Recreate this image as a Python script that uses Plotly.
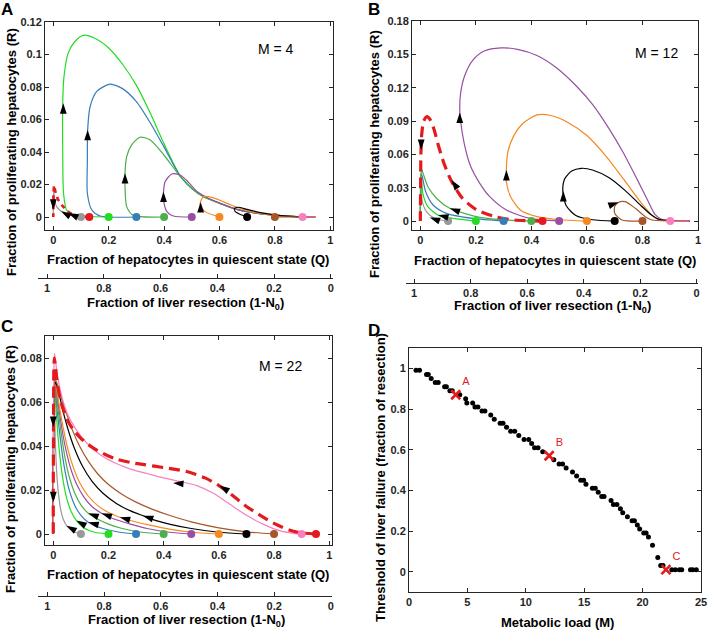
import plotly.graph_objects as go

W, H = 709, 632
FONT = "Liberation Sans"
AX = "#262626"

# ---------------- colours ----------------
C_GRAY = "#999999"
C_LIME = "#22DD22"
C_BLUE = "#377EB8"
C_GREEN = "#4DAF4A"
C_PURPLE = "#984EA3"
C_ORANGE = "#F5891F"
C_BLACK = "#000000"
C_BROWN = "#A65628"
C_PINK = "#F781BF"
C_RED = "#E41A1C"

# ---------------- Panel A (M = 4) ----------------
A_gray_Q = [0.1, 0.075, 0.05, 0.036, 0.022, 0.012, 0.006, 0.0025, 0.001, 0.0, 0.0]
A_gray_R = [0.0, 0.0005, 0.0015, 0.0027, 0.0045, 0.0064, 0.0095, 0.0136, 0.016, 0.01, 0.0]
A_red_Q = [0.13, 0.09, 0.06, 0.035, 0.018, 0.007, 0.003, 0.001, 0.0, 0.0]
A_red_R = [0.0, 0.0005, 0.0025, 0.0065, 0.0105, 0.016, 0.0195, 0.015, 0.005, 0.0]
A_lime_Q = [0.2, 0.12, 0.072, 0.048, 0.037, 0.034, 0.034, 0.0386, 0.054, 0.078, 0.108, 0.15, 0.2, 0.25, 0.3, 0.35, 0.4, 0.458, 0.506, 0.542, 0.602, 0.663, 0.735, 0.819, 0.9, 0.946]
A_lime_R = [0.0, 0.0003, 0.0008, 0.0043, 0.0146, 0.041, 0.07, 0.0865, 0.101, 0.108, 0.1118, 0.110, 0.104, 0.094, 0.081, 0.064, 0.045, 0.0255, 0.017, 0.0126, 0.0084, 0.0047, 0.0023, 0.0008, 0.0001, 0.0]
A_blue_Q = [0.3, 0.169, 0.139, 0.123, 0.123, 0.124, 0.133, 0.157, 0.205, 0.25, 0.3, 0.35, 0.4, 0.458, 0.506, 0.542, 0.602, 0.663, 0.735, 0.819, 0.9, 0.946]
A_blue_R = [0.0, 0.0006, 0.0043, 0.0146, 0.035, 0.0536, 0.068, 0.0773, 0.0818, 0.079, 0.071, 0.058, 0.043, 0.0252, 0.0167, 0.0126, 0.0084, 0.0047, 0.0023, 0.0008, 0.0001, 0.0]
A_green_Q = [0.4, 0.289, 0.265, 0.259, 0.259, 0.265, 0.283, 0.313, 0.349, 0.4, 0.458, 0.506, 0.542, 0.602, 0.663, 0.735, 0.819, 0.9, 0.946]
A_green_R = [0.0, 0.001, 0.0064, 0.0187, 0.027, 0.0372, 0.0444, 0.0491, 0.0475, 0.038, 0.025, 0.0166, 0.0125, 0.0084, 0.0047, 0.0023, 0.0008, 0.0001, 0.0]
A_purple_Q = [0.5, 0.434, 0.41, 0.398, 0.398, 0.404, 0.428, 0.458, 0.49, 0.52, 0.56, 0.602, 0.663, 0.735, 0.819, 0.9, 0.946]
A_purple_R = [0.0, 0.0006, 0.0033, 0.0105, 0.0156, 0.0218, 0.0265, 0.0258, 0.021, 0.0155, 0.0115, 0.0084, 0.0047, 0.0023, 0.0008, 0.0001, 0.0]
A_orange_Q = [0.6, 0.548, 0.53, 0.532, 0.542, 0.578, 0.639, 0.699, 0.783, 0.87, 0.946]
A_orange_R = [0.0, 0.0033, 0.0074, 0.0094, 0.0125, 0.0118, 0.0076, 0.0040, 0.0012, 0.0002, 0.0]
A_black_Q = [0.7, 0.681, 0.657, 0.654, 0.668, 0.699, 0.748, 0.807, 0.88, 0.946]
A_black_R = [0.0, 0.0012, 0.0033, 0.0053, 0.006, 0.0047, 0.0027, 0.0012, 0.0002, 0.0]
A_brown_Q = [0.8, 0.87, 0.946]
A_brown_R = [0.0, 0.0001, 0.0]
A_pink_Q = [0.9, 0.946]
A_pink_R = [0.0, 0.0]
A_arrow_Q = [0.036, 0.124, 0.259, 0.398, 0.532, 0.054, 0.028, 0.0]
A_arrow_R = [0.070, 0.0536, 0.027, 0.0156, 0.0092, 0.0025, 0.0036, 0.0045]
A_arrow_ang = [0, 0, 0, 0, 0, 295, 300, 180]

# ---------------- Panel B (M = 12) ----------------
B_gray_Q = [0.1, 0.052, 0.022, 0.007, 0.002, 0.001, 0.0, 0.0]
B_gray_R = [0.0, 0.0024, 0.0085, 0.0175, 0.028, 0.02, 0.006, 0.0]
B_lime_Q = [0.2, 0.118, 0.064, 0.027, 0.009, 0.004, 0.002, 0.0, 0.0]
B_lime_R = [0.0, 0.0024, 0.0054, 0.013, 0.025, 0.037, 0.025, 0.008, 0.0]
B_blue_Q = [0.3, 0.19, 0.094, 0.046, 0.019, 0.007, 0.003, 0.001, 0.0, 0.0]
B_blue_R = [0.0, 0.0024, 0.007, 0.0145, 0.0266, 0.0402, 0.043, 0.03, 0.008, 0.0]
B_green_Q = [0.4, 0.3, 0.214, 0.106, 0.058, 0.027, 0.0095, 0.004, 0.001, 0.0, 0.0]
B_green_R = [0.0, 0.0012, 0.0034, 0.0115, 0.0206, 0.0311, 0.0433, 0.047, 0.035, 0.01, 0.0]
B_purple_Q = [0.5, 0.395, 0.31, 0.25, 0.214, 0.18, 0.158, 0.145, 0.142, 0.145, 0.16, 0.19, 0.23, 0.29, 0.35, 0.42, 0.49, 0.56, 0.62, 0.68, 0.73, 0.78, 0.82, 0.845, 0.87, 0.92, 0.97]
B_purple_R = [0.0, 0.0024, 0.01, 0.022, 0.034, 0.05, 0.07, 0.09, 0.1, 0.115, 0.131, 0.145, 0.153, 0.1558, 0.1545, 0.149, 0.138, 0.122, 0.105, 0.083, 0.062, 0.038, 0.018, 0.006, 0.0015, 0.0002, 0.0]
B_orange_Q = [0.6, 0.5, 0.42, 0.36, 0.325, 0.31, 0.31, 0.315, 0.335, 0.37, 0.42, 0.47, 0.53, 0.6, 0.67, 0.74, 0.8, 0.84, 0.87, 0.92, 0.97]
B_orange_R = [0.0, 0.0012, 0.004, 0.01, 0.022, 0.035, 0.048, 0.062, 0.076, 0.088, 0.0955, 0.095, 0.089, 0.077, 0.058, 0.035, 0.015, 0.004, 0.001, 0.0002, 0.0]
B_black_Q = [0.7, 0.62, 0.56, 0.525, 0.513, 0.52, 0.545, 0.58, 0.62, 0.68, 0.74, 0.79, 0.83, 0.86, 0.92, 0.97]
B_black_R = [0.0, 0.0012, 0.005, 0.014, 0.027, 0.038, 0.045, 0.0475, 0.046, 0.039, 0.027, 0.015, 0.006, 0.0015, 0.0002, 0.0]
B_brown_Q = [0.8, 0.726, 0.70, 0.70, 0.714, 0.738, 0.774, 0.81, 0.834, 0.9, 0.97]
B_brown_R = [0.0, 0.001, 0.007, 0.013, 0.017, 0.0175, 0.0115, 0.004, 0.001, 0.0001, 0.0]
B_pink_Q = [0.9, 0.967]
B_pink_R = [0.0, 0.0]
B_red_Q = [0.44, 0.34, 0.27, 0.2, 0.15, 0.112, 0.085, 0.065, 0.05, 0.036, 0.024, 0.012, 0.005, 0.002, 0.001, 0.0]
B_red_R = [0.0, 0.001, 0.0039, 0.0105, 0.021, 0.036, 0.052, 0.068, 0.082, 0.091, 0.094, 0.09, 0.078, 0.06, 0.03, 0.0]
B_arrow_Q = [0.142, 0.31, 0.515, 0.714, 0.112, 0.003, 0.034, 0.064, 0.106]
B_arrow_R = [0.0977, 0.046, 0.027, 0.017, 0.037, 0.064, 0.0033, 0.0056, 0.0115]
B_arrow_ang = [0, 0, 0, 70, 325, 180, 290, 285, 290]

# ---------------- Panel C (M = 22) ----------------
C_gray_Q = [0.1, 0.08, 0.062, 0.048, 0.036, 0.027, 0.02, 0.014, 0.01, 0.007, 0.005, 0.0035, 0.002, 0.001, 0.0, 0.0]
C_gray_R = [0.0, 0.0008, 0.0022, 0.0038, 0.0068, 0.011, 0.017, 0.025, 0.034, 0.044, 0.053, 0.06, 0.062, 0.045, 0.015, 0.0]
C_lime_Q = [0.2, 0.15, 0.11, 0.084, 0.064, 0.048, 0.036, 0.026, 0.018, 0.012, 0.008, 0.005, 0.002, 0.001, 0.0, 0.0]
C_lime_R = [0.0, 0.0008, 0.0028, 0.0061, 0.0105, 0.0165, 0.024, 0.033, 0.043, 0.053, 0.061, 0.065, 0.062, 0.045, 0.015, 0.0]
C_blue_Q = [0.3, 0.24, 0.18, 0.15, 0.127, 0.1, 0.078, 0.06, 0.045, 0.033, 0.023, 0.015, 0.01, 0.006, 0.003, 0.001, 0.0, 0.0]
C_blue_R = [0.0, 0.0008, 0.0025, 0.0038, 0.0053, 0.0085, 0.013, 0.019, 0.027, 0.036, 0.046, 0.055, 0.062, 0.066, 0.064, 0.045, 0.015, 0.0]
C_green_Q = [0.4, 0.32, 0.25, 0.2, 0.16, 0.127, 0.1, 0.078, 0.06, 0.045, 0.033, 0.023, 0.015, 0.01, 0.006, 0.003, 0.001, 0.0, 0.0]
C_green_R = [0.0, 0.0008, 0.0025, 0.0045, 0.0068, 0.0094, 0.0132, 0.0185, 0.025, 0.033, 0.042, 0.051, 0.059, 0.064, 0.067, 0.064, 0.045, 0.015, 0.0]
C_purple_Q = [0.5, 0.42, 0.34, 0.28, 0.22, 0.175, 0.14, 0.11, 0.085, 0.065, 0.048, 0.035, 0.025, 0.017, 0.011, 0.006, 0.003, 0.001, 0.0, 0.0]
C_purple_R = [0.0, 0.0008, 0.0025, 0.0045, 0.0068, 0.0094, 0.0125, 0.017, 0.0225, 0.029, 0.037, 0.045, 0.053, 0.06, 0.065, 0.068, 0.065, 0.045, 0.015, 0.0]
C_orange_Q = [0.6, 0.5, 0.42, 0.35, 0.29, 0.241, 0.2, 0.16, 0.125, 0.095, 0.072, 0.053, 0.038, 0.026, 0.017, 0.01, 0.006, 0.003, 0.001, 0.0, 0.0]
C_orange_R = [0.0, 0.0008, 0.0022, 0.004, 0.0058, 0.0076, 0.0098, 0.013, 0.0175, 0.0235, 0.0305, 0.0385, 0.047, 0.055, 0.062, 0.067, 0.069, 0.066, 0.045, 0.015, 0.0]
C_black_Q = [0.7, 0.6, 0.5, 0.42, 0.37, 0.325, 0.28, 0.23, 0.18, 0.14, 0.105, 0.078, 0.056, 0.039, 0.026, 0.016, 0.009, 0.004, 0.001, 0.0, 0.0]
C_black_R = [0.0, 0.0008, 0.0025, 0.0045, 0.0062, 0.0083, 0.0105, 0.0138, 0.0185, 0.024, 0.031, 0.0385, 0.0465, 0.054, 0.061, 0.066, 0.069, 0.067, 0.045, 0.015, 0.0]
C_brown_Q = [0.8, 0.7, 0.6, 0.5, 0.42, 0.36, 0.3, 0.25, 0.2, 0.16, 0.125, 0.095, 0.07, 0.05, 0.034, 0.021, 0.012, 0.006, 0.003, 0.001, 0.0, 0.0]
C_brown_R = [0.0, 0.001, 0.0028, 0.0055, 0.0085, 0.0112, 0.0145, 0.018, 0.0225, 0.0275, 0.0335, 0.04, 0.047, 0.054, 0.06, 0.065, 0.069, 0.07, 0.066, 0.045, 0.015, 0.0]
C_pink_Q = [0.9, 0.87, 0.82, 0.76, 0.7, 0.64, 0.58, 0.52, 0.46, 0.4, 0.34, 0.28, 0.22, 0.17, 0.12, 0.08, 0.05, 0.03, 0.015, 0.007, 0.004, 0.002, 0.001, 0.0]
C_pink_R = [0.0, 0.0003, 0.0015, 0.0045, 0.0085, 0.0135, 0.0185, 0.022, 0.0238, 0.0255, 0.0275, 0.0295, 0.0325, 0.036, 0.0415, 0.048, 0.055, 0.063, 0.072, 0.08, 0.082, 0.07, 0.04, 0.0]
C_red_Q = [0.952, 0.9, 0.855, 0.8, 0.75, 0.7, 0.65, 0.6, 0.55, 0.48, 0.4, 0.33, 0.28, 0.23, 0.19, 0.14, 0.1, 0.075, 0.05, 0.03, 0.015, 0.008, 0.004, 0.002, 0.001, 0.0, 0.0]
C_red_R = [0.0, 0.0005, 0.0018, 0.0048, 0.0085, 0.0125, 0.0175, 0.022, 0.0255, 0.0285, 0.0302, 0.0315, 0.0325, 0.034, 0.036, 0.0395, 0.0435, 0.047, 0.052, 0.059, 0.068, 0.076, 0.08, 0.075, 0.05, 0.02, 0.0]
C_arrow_Q = [0.048, 0.084, 0.127, 0.127, 0.175, 0.241, 0.325, 0.434, 0.602, 0.0, 0.0]
C_arrow_R = [0.0038, 0.0061, 0.0053, 0.0094, 0.0094, 0.0076, 0.0083, 0.0232, 0.022, 0.0486, 0.0144]
C_arrow_ang = [300, 300, 285, 290, 290, 285, 288, 275, 302, 180, 180]

# ---------------- Panel D ----------------
D_M = [0.6, 0.9, 1.5, 1.65, 1.9, 2.25, 2.5, 3.05, 3.2, 3.5, 3.7, 4.35, 4.85, 4.95, 5.45, 5.65, 5.9,
       6.25, 6.5, 7.0, 7.3, 7.8, 8.05, 8.35, 8.7, 9.05, 9.4, 9.85, 10.25, 10.5, 10.75, 11.05, 11.45,
       12.4, 12.85, 13.15, 13.45, 14.0, 14.35, 14.7, 14.95, 15.15, 15.7, 15.95, 16.2, 16.5, 16.7,
       17.3, 17.5, 17.8, 18.1, 18.3, 18.7, 19.1, 19.3, 19.55, 19.75, 20.1, 20.3, 20.5, 20.85, 21.3,
       21.55, 21.75, 22.5, 22.8, 23.15, 23.35, 24.1, 24.3, 24.6]
D_thr = [0.99, 0.99, 0.97, 0.97, 0.95, 0.93, 0.93, 0.91, 0.91, 0.89, 0.89, 0.87, 0.85, 0.83, 0.83, 0.81, 0.81,
         0.79, 0.79, 0.77, 0.75, 0.73, 0.73, 0.71, 0.69, 0.69, 0.67, 0.65, 0.65, 0.63, 0.61, 0.61, 0.59,
         0.55, 0.53, 0.53, 0.51, 0.49, 0.47, 0.45, 0.45, 0.43, 0.41, 0.41, 0.39, 0.37, 0.37,
         0.35, 0.33, 0.33, 0.31, 0.29, 0.27, 0.25, 0.25, 0.23, 0.21, 0.19, 0.19, 0.17, 0.13, 0.07,
         0.03, 0.03, 0.01, 0.01, 0.01, 0.01, 0.01, 0.01, 0.01]
D_cross_M = [4, 12, 22]
D_cross_thr = [0.87, 0.57, 0.01]
D_cross_lbl = ["A", "B", "C"]

# ---------------- layout helpers ----------------
def hx(a, b):
    return [a / W, b / W]

def vy(top, bot):
    return [1 - bot / H, 1 - top / H]

fig = go.Figure()

def curve(Q, R, color, xa, ya, dash=None, width=1.2):
    fig.add_trace(go.Scatter(x=Q, y=R, mode="lines", xaxis=xa, yaxis=ya,
                             line=dict(color=color, width=width, dash=dash, shape="spline", smoothing=0.7),
                             hoverinfo="skip", showlegend=False))

def dots(Qs, cols, xa, ya):
    fig.add_trace(go.Scatter(x=Qs, y=[0] * len(Qs), mode="markers", xaxis=xa, yaxis=ya,
                             marker=dict(color=cols, size=8), hoverinfo="skip", showlegend=False))

def arrows(Q, R, ang, xa, ya):
    fig.add_trace(go.Scatter(x=Q, y=R, mode="markers", xaxis=xa, yaxis=ya,
                             marker=dict(symbol="arrow", size=11, angle=ang, color="black",
                                         line=dict(width=0)),
                             hoverinfo="skip", showlegend=False))

RED_DASH = "11px,6px"
RED_W = 3.2

# Panel A
for Q, R, c in [(A_gray_Q, A_gray_R, C_GRAY), (A_lime_Q, A_lime_R, C_LIME), (A_blue_Q, A_blue_R, C_BLUE),
                (A_green_Q, A_green_R, C_GREEN), (A_purple_Q, A_purple_R, C_PURPLE),
                (A_orange_Q, A_orange_R, C_ORANGE), (A_black_Q, A_black_R, C_BLACK),
                (A_brown_Q, A_brown_R, C_BROWN), (A_pink_Q, A_pink_R, C_PINK)]:
    curve(Q, R, c, "x", "y")
curve(A_red_Q, A_red_R, C_RED, "x", "y", dash="5px,4px", width=2.6)
dots([A_gray_Q[0], A_red_Q[0], A_lime_Q[0], A_blue_Q[0], A_green_Q[0], A_purple_Q[0], A_orange_Q[0],
      A_black_Q[0], A_brown_Q[0], A_pink_Q[0]],
     [C_GRAY, C_RED, C_LIME, C_BLUE, C_GREEN, C_PURPLE, C_ORANGE, C_BLACK, C_BROWN, C_PINK], "x", "y")
arrows(A_arrow_Q, A_arrow_R, A_arrow_ang, "x", "y")

# Panel B
for Q, R, c in [(B_gray_Q, B_gray_R, C_GRAY), (B_lime_Q, B_lime_R, C_LIME), (B_blue_Q, B_blue_R, C_BLUE),
                (B_green_Q, B_green_R, C_GREEN), (B_purple_Q, B_purple_R, C_PURPLE),
                (B_orange_Q, B_orange_R, C_ORANGE), (B_black_Q, B_black_R, C_BLACK),
                (B_brown_Q, B_brown_R, C_BROWN), (B_pink_Q, B_pink_R, C_PINK)]:
    curve(Q, R, c, "x2", "y2")
curve(B_red_Q, B_red_R, C_RED, "x2", "y2", dash=RED_DASH, width=RED_W)
dots([B_gray_Q[0], B_lime_Q[0], B_blue_Q[0], B_green_Q[0], B_red_Q[0], B_purple_Q[0], B_orange_Q[0],
      B_black_Q[0], B_brown_Q[0], B_pink_Q[0]],
     [C_GRAY, C_LIME, C_BLUE, C_GREEN, C_RED, C_PURPLE, C_ORANGE, C_BLACK, C_BROWN, C_PINK], "x2", "y2")
arrows(B_arrow_Q, B_arrow_R, B_arrow_ang, "x2", "y2")

# Panel C
for Q, R, c in [(C_gray_Q, C_gray_R, C_GRAY), (C_lime_Q, C_lime_R, C_LIME), (C_blue_Q, C_blue_R, C_BLUE),
                (C_green_Q, C_green_R, C_GREEN), (C_purple_Q, C_purple_R, C_PURPLE),
                (C_orange_Q, C_orange_R, C_ORANGE), (C_black_Q, C_black_R, C_BLACK),
                (C_brown_Q, C_brown_R, C_BROWN), (C_pink_Q, C_pink_R, C_PINK)]:
    curve(Q, R, c, "x3", "y3")
curve(C_red_Q, C_red_R, C_RED, "x3", "y3", dash=RED_DASH, width=RED_W)
dots([C_gray_Q[0], C_lime_Q[0], C_blue_Q[0], C_green_Q[0], C_purple_Q[0], C_orange_Q[0],
      C_black_Q[0], C_brown_Q[0], C_pink_Q[0], C_red_Q[0]],
     [C_GRAY, C_LIME, C_BLUE, C_GREEN, C_PURPLE, C_ORANGE, C_BLACK, C_BROWN, C_PINK, C_RED], "x3", "y3")
arrows(C_arrow_Q, C_arrow_R, C_arrow_ang, "x3", "y3")

# Panel D
fig.add_trace(go.Scatter(x=D_M, y=D_thr, mode="markers", xaxis="x4", yaxis="y4",
                         marker=dict(color="black", size=5), hoverinfo="skip", showlegend=False))
fig.add_trace(go.Scatter(x=D_cross_M, y=D_cross_thr, mode="markers+text", xaxis="x4", yaxis="y4",
                         text=D_cross_lbl, textposition="top right",
                         textfont=dict(family=FONT, size=11, color=C_RED),
                         marker=dict(symbol="x-thin", size=9, line=dict(color=C_RED, width=2.6)),
                         hoverinfo="skip", showlegend=False))

# dummy traces for the secondary (resection) axes
for xa, ya in [("x5", "y5"), ("x6", "y6"), ("x7", "y7")]:
    fig.add_trace(go.Scatter(x=[0.5], y=[0], mode="markers", xaxis=xa, yaxis=ya,
                             marker=dict(opacity=0), hoverinfo="skip", showlegend=False))

tickfont = dict(family=FONT, size=11, color=AX, weight="bold")

def main_axis(domain, rng, dtick, anchor, **kw):
    return dict(domain=domain, range=rng, dtick=dtick, tick0=0, anchor=anchor,
                showline=True, linecolor=AX, linewidth=1, mirror="ticks",
                ticks="inside", ticklen=4, tickcolor=AX, tickwidth=1,
                showgrid=False, zeroline=False, tickfont=tickfont, automargin=False, **kw)

def sec_axis(domain, rng, anchor):
    return dict(domain=domain, range=rng, anchor=anchor,
                showline=True, linecolor=AX, linewidth=1, ticks="inside", ticklen=4,
                tickcolor=AX, showgrid=False, zeroline=False, tickfont=tickfont, automargin=False,
                tickvals=[1, 0.8, 0.6, 0.4, 0.2, 0], ticktext=["1", "0.8", "0.6", "0.4", "0.2", "0"])

def dummy_y(pos):
    p = 1 - pos / H
    return dict(domain=[p, p + 0.002], visible=False, range=[0, 1], fixedrange=True)

fig.update_layout(
    width=W, height=H, margin=dict(l=0, r=0, t=0, b=0),
    paper_bgcolor="white", plot_bgcolor="white",
    xaxis=main_axis(hx(45, 333), [-0.03, 1.01], 0.2, "y"),
    yaxis=main_axis(vy(22, 230), [-0.008, 0.12], 0.02, "x"),
    xaxis2=main_axis(hx(412, 698), [-0.03, 1.0], 0.2, "y2"),
    yaxis2=main_axis(vy(21, 230), [-0.008, 0.18], 0.03, "x2"),
    xaxis3=main_axis(hx(45, 332), [-0.03, 1.01], 0.2, "y3"),
    yaxis3=main_axis(vy(336, 545), [-0.005, 0.09], 0.02, "x3"),
    xaxis4=main_axis(hx(409, 701), [0, 25], 5, "y4"),
    yaxis4=main_axis(vy(348, 592), [-0.1, 1.1], 0.2, "x4"),
    xaxis5=sec_axis(hx(38, 333), [1.032, -0.008], "y5"),
    yaxis5=dummy_y(278),
    xaxis6=sec_axis(hx(405.7, 698), [1.03, -0.005], "y6"),
    yaxis6=dummy_y(282.7),
    xaxis7=sec_axis(hx(38.3, 331.7), [1.032, -0.003], "y7"),
    yaxis7=dummy_y(595.7),
)

ann = []
def text(px, py, s, size=13, bold=True, angle=0, color="black", xanchor="center"):
    ann.append(dict(x=px / W, y=1 - py / H, xref="paper", yref="paper", text=(f"<b>{s}</b>" if bold else s),
                    showarrow=False, textangle=angle, xanchor=xanchor, yanchor="middle",
                    font=dict(family=FONT, size=size, color=color)))

YT = "Fraction of proliferating hepatocytes (R)"
XT = "Fraction of hepatocytes in quiescent state (Q)"
X2T = "Fraction of liver resection (1-N<sub>0</sub>)"
text(12, 152, YT, angle=-90)
text(188, 259, XT)
text(185.5, 303, X2T)
text(375, 154, YT, angle=-90)
text(555, 260, XT)
text(552, 307, X2T)
text(10, 469, YT, angle=-90)
text(188, 574, XT)
text(187, 620, X2T)
text(380, 478, "Threshold of liver failure (fraction of resection)", angle=-90)
text(557, 622, "Metabolic load (M)")
text(276, 49, "M = 4", size=14, bold=False)
text(656, 53, "M = 12", size=14, bold=False)
text(280, 366, "M = 22", size=14, bold=False)
text(7, 10, "A", size=17)
text(374, 10, "B", size=17)
text(7, 326, "C", size=17)
text(374, 330, "D", size=17)
fig.update_layout(annotations=ann)

fig.write_html("out.html", config={"displayModeBar": False},
               post_script="document.body.style.margin='0';document.body.style.overflow='hidden';")
